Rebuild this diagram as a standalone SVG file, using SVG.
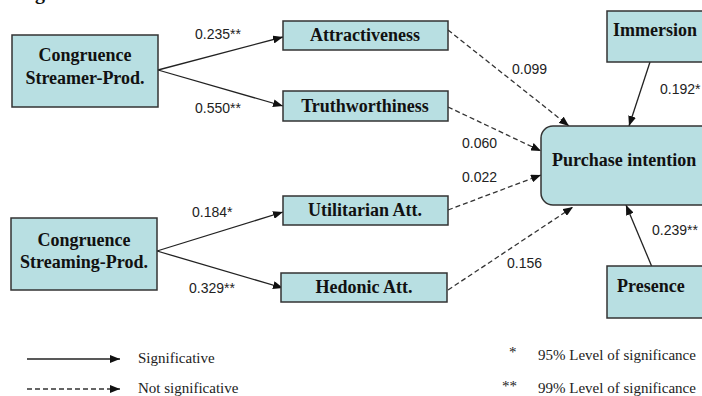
<svg xmlns="http://www.w3.org/2000/svg" width="702" height="396" viewBox="0 0 702 396">
<defs>
<marker id="ah" viewBox="0 0 10 8" refX="10" refY="4" markerWidth="10" markerHeight="8" markerUnits="userSpaceOnUse" orient="auto">
<path d="M0,0 L10,4 L0,8 z" fill="#111"/>
</marker>
<style>
.box{fill:#b8dfe2;stroke:#333;stroke-width:1.5}
.nt{font-family:"Liberation Serif","Times New Roman",serif;font-weight:bold;font-size:18px;fill:#111}
.c{stroke:#222;stroke-width:1.3;fill:none;marker-end:url(#ah)}
.d{stroke:#333;stroke-width:1.3;fill:none;stroke-dasharray:5 3;marker-end:url(#ah)}
.lb{font-family:"Liberation Sans",Arial,sans-serif;font-size:14px;fill:#222}
.lg{font-family:"Liberation Serif","Times New Roman",serif;font-size:15px;fill:#222}
</style>
</defs>
<rect width="702" height="396" fill="#fff"/>
<text class="nt" x="35" y="-1" style="font-size:20px">g</text>

<g id="connectors">
<line class="c" x1="158" y1="70" x2="283" y2="37"/>
<line class="c" x1="158" y1="70" x2="283" y2="106"/>
<line class="c" x1="157" y1="251" x2="283" y2="212"/>
<line class="c" x1="157" y1="251" x2="283" y2="288"/>
<line class="d" x1="448" y1="30" x2="569" y2="126"/>
<line class="d" x1="448" y1="107" x2="541" y2="151"/>
<line class="d" x1="448" y1="210" x2="541" y2="175"/>
<line class="d" x1="448" y1="290" x2="573" y2="207"/>
<line class="c" x1="650" y1="62" x2="629" y2="126"/>
<line class="c" x1="652" y1="267" x2="626" y2="205"/>
</g>

<g id="n-streamer">
<rect class="box" x="12" y="35" width="146" height="72"/>
<text class="nt" x="85" y="61" text-anchor="middle">Congruence</text>
<text class="nt" x="85" y="84" text-anchor="middle">Streamer-Prod.</text>
</g>
<g id="n-streaming">
<rect class="box" x="11" y="218" width="146" height="72"/>
<text class="nt" x="84" y="246" text-anchor="middle">Congruence</text>
<text class="nt" x="84" y="268" text-anchor="middle">Streaming-Prod.</text>
</g>
<g id="n-attr">
<rect class="box" x="283" y="21" width="165" height="29"/>
<text class="nt" x="365" y="41" text-anchor="middle">Attractiveness</text>
</g>
<g id="n-truth">
<rect class="box" x="283" y="91" width="165" height="30"/>
<text class="nt" x="365" y="112" text-anchor="middle">Truthworthiness</text>
</g>
<g id="n-util">
<rect class="box" x="283" y="196" width="165" height="29"/>
<text class="nt" x="365" y="216" text-anchor="middle">Utilitarian Att.</text>
</g>
<g id="n-hedonic">
<rect class="box" x="281" y="273" width="166" height="29"/>
<text class="nt" x="364" y="293" text-anchor="middle">Hedonic Att.</text>
</g>
<g id="n-immersion">
<rect class="box" x="607" y="11" width="110" height="51"/>
<text class="nt" x="613" y="36">Immersion</text>
</g>
<g id="n-purchase">
<rect class="box" x="541" y="126" width="190" height="79" rx="12"/>
<text class="nt" x="552" y="166">Purchase intention</text>
</g>
<g id="n-presence">
<rect class="box" x="607" y="266" width="110" height="52"/>
<text class="nt" x="617" y="292">Presence</text>
</g>

<g id="labels">
<text class="lb" x="195" y="39">0.235**</text>
<text class="lb" x="195" y="113">0.550**</text>
<text class="lb" x="192" y="217">0.184*</text>
<text class="lb" x="189" y="293">0.329**</text>
<text class="lb" x="512" y="74">0.099</text>
<text class="lb" x="462" y="148">0.060</text>
<text class="lb" x="462" y="182">0.022</text>
<text class="lb" x="507" y="268">0.156</text>
<text class="lb" x="660" y="94">0.192*</text>
<text class="lb" x="652" y="235">0.239**</text>
</g>

<g id="legend">
<line class="c" x1="27" y1="359" x2="120" y2="359"/>
<text class="lg" x="138" y="363">Significative</text>
<line class="d" x1="27" y1="389" x2="120" y2="389"/>
<text class="lg" x="138" y="393">Not significative</text>
<text class="lg" x="509" y="357">*</text>
<text class="lg" x="538" y="360">95% Level of significance</text>
<text class="lg" x="502" y="391">**</text>
<text class="lg" x="538" y="393">99% Level of significance</text>
</g>
</svg>
